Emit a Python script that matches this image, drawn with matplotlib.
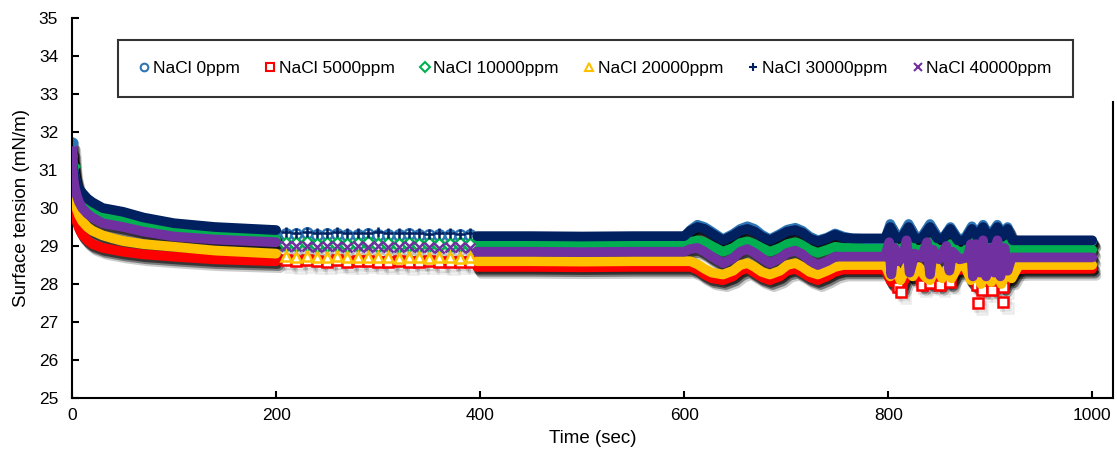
import matplotlib
matplotlib.use('Agg')
import matplotlib.pyplot as plt
import matplotlib.patheffects as pe
from matplotlib.lines import Line2D

plt.rcParams['font.family'] = ['Liberation Sans', 'DejaVu Sans']

labels = ['NaCl 0ppm', 'NaCl 5000ppm', 'NaCl 10000ppm',
          'NaCl 20000ppm', 'NaCl 30000ppm', 'NaCl 40000ppm']
colors = ['#2E75B6', '#FF0000', '#00B050', '#FFC000', '#002060', '#7030A0']
markers = ['o', 's', 'D', '^', '+', 'x']

# 0-200 s (dense recording)
t_early = [0, 1, 2, 3, 5, 7, 10, 15, 20, 30, 40, 50, 70, 100, 140, 200]
early_0 = [31.7, 31.2, 30.95, 30.8, 30.55, 30.42, 30.3, 30.15, 30.05, 29.9, 29.82, 29.76, 29.6, 29.47, 29.38, 29.3]
early_5k = [30.7, 30.2, 30.0, 29.85, 29.6, 29.45, 29.3, 29.15, 29.05, 28.95, 28.9, 28.85, 28.78, 28.72, 28.65, 28.6]
early_10k = [31.1, 30.8, 30.65, 30.55, 30.35, 30.25, 30.12, 30.0, 29.9, 29.78, 29.7, 29.64, 29.5, 29.38, 29.28, 29.18]
early_20k = [30.95, 30.5, 30.3, 30.15, 29.95, 29.8, 29.65, 29.5, 29.4, 29.28, 29.2, 29.13, 29.05, 28.98, 28.88, 28.8]
early_30k = [31.3, 31.05, 30.9, 30.8, 30.6, 30.5, 30.4, 30.25, 30.15, 30.0, 29.95, 29.9, 29.75, 29.6, 29.5, 29.42]
early_40k = [31.5, 30.9, 30.65, 30.5, 30.3, 30.15, 30.0, 29.85, 29.75, 29.6, 29.55, 29.5, 29.38, 29.25, 29.17, 29.1]

# 200-400 s (one reading every ~10 s)
t_mid = [210, 220, 230, 240, 250, 260, 270, 280, 290, 300, 310, 320, 330, 340, 350, 360, 370, 380, 390]
mid_0 = [29.32, 29.31, 29.33, 29.3, 29.31, 29.32, 29.3, 29.29, 29.31, 29.3, 29.29, 29.3, 29.31, 29.28, 29.3, 29.29, 29.3, 29.28, 29.29]
mid_5k = [28.62, 28.6, 28.63, 28.6, 28.59, 28.62, 28.58, 28.6, 28.61, 28.59, 28.58, 28.6, 28.57, 28.59, 28.6, 28.58, 28.57, 28.59, 28.58]
mid_10k = [29.06, 29.05, 29.07, 29.04, 29.05, 29.06, 29.03, 29.05, 29.08, 29.04, 29.05, 29.03, 29.06, 29.04, 29.05, 29.03, 29.04, 29.05, 29.03]
mid_20k = [28.73, 28.72, 28.74, 28.71, 28.72, 28.73, 28.7, 28.72, 28.71, 28.7, 28.72, 28.69, 28.71, 28.7, 28.69, 28.71, 28.7, 28.69, 28.7]
mid_30k = [29.37, 29.35, 29.38, 29.34, 29.35, 29.36, 29.33, 29.35, 29.34, 29.36, 29.33, 29.34, 29.35, 29.33, 29.32, 29.34, 29.33, 29.32, 29.33]
mid_40k = [29.0, 28.99, 29.01, 28.98, 29.0, 28.99, 28.97, 29.0, 28.98, 28.99, 28.97, 28.98, 28.99, 28.97, 28.98, 28.96, 28.97, 28.98, 28.96]

# 397-797 s (dense, with the wave from 600 s)
t_late = [397, 450, 500, 550, 600, 606, 613, 620, 627, 638, 648, 655, 662, 669, 676, 684,
          694, 701, 709, 716, 723, 731, 740, 748, 756, 765, 780, 797]
late_0 = [29.22, 29.22, 29.21, 29.22, 29.22, 29.42, 29.56, 29.5, 29.38, 29.18, 29.32, 29.45, 29.52, 29.45,
          29.3, 29.18, 29.32, 29.43, 29.48, 29.4, 29.25, 29.15, 29.22, 29.33, 29.25, 29.2, 29.18, 29.18]
late_5k = [28.45, 28.45, 28.44, 28.45, 28.45, 28.45, 28.38, 28.25, 28.15, 28.1, 28.2, 28.35, 28.42, 28.3,
           28.18, 28.1, 28.2, 28.35, 28.4, 28.3, 28.18, 28.1, 28.2, 28.32, 28.38, 28.38, 28.38, 28.38]
late_10k = [29.05, 29.05, 29.04, 29.05, 29.05, 29.1, 29.15, 29.1, 29.0, 28.85, 28.95, 29.08, 29.12, 29.05,
            28.95, 28.85, 28.95, 29.05, 29.1, 29.02, 28.9, 28.82, 28.9, 28.98, 28.95, 28.95, 28.93, 28.93]
late_20k = [28.6, 28.6, 28.59, 28.6, 28.6, 28.6, 28.52, 28.4, 28.3, 28.25, 28.35, 28.5, 28.55, 28.45,
            28.32, 28.25, 28.35, 28.5, 28.55, 28.45, 28.32, 28.25, 28.35, 28.45, 28.5, 28.5, 28.5, 28.5]
late_30k = [29.26, 29.26, 29.25, 29.26, 29.26, 29.4, 29.5, 29.45, 29.33, 29.15, 29.28, 29.4, 29.45, 29.38,
            29.25, 29.15, 29.28, 29.38, 29.42, 29.35, 29.2, 29.12, 29.2, 29.3, 29.22, 29.2, 29.2, 29.2]
late_40k = [28.85, 28.85, 28.84, 28.85, 28.85, 28.92, 28.95, 28.85, 28.72, 28.55, 28.68, 28.85, 28.92, 28.82,
            28.68, 28.55, 28.68, 28.82, 28.88, 28.78, 28.62, 28.5, 28.6, 28.72, 28.72, 28.72, 28.72, 28.72]

# 800-1000 s (spiky part and tail)
t_spk_top = [802, 808, 814, 820, 826, 833, 841, 848, 854, 861, 868, 875, 882, 887, 893, 899, 907, 912, 917, 922,
             935, 960, 1000]
spk_0 = [29.58, 29.25, 29.3, 29.58, 29.25, 29.25, 29.58, 29.25, 29.22, 29.5, 29.2, 29.2, 29.52, 29.3, 29.56, 29.25,
         29.56, 29.3, 29.5, 29.15, 29.12, 29.12, 29.12]
spk_10k = [29.15, 28.9, 28.95, 29.1, 28.9, 28.9, 29.1, 28.9, 28.9, 29.05, 28.85, 28.85, 29.1, 28.9, 29.1, 28.9,
           29.1, 28.9, 29.05, 28.9, 28.9, 28.9, 28.9]
spk_30k = [29.5, 29.2, 29.25, 29.5, 29.2, 29.2, 29.5, 29.2, 29.2, 29.45, 29.15, 29.15, 29.45, 29.25, 29.5, 29.2,
           29.5, 29.25, 29.45, 29.15, 29.15, 29.15, 29.15]
t_spk_5k = [803, 808, 814, 819, 826, 833, 838, 842, 846, 851, 856, 861, 866, 872, 880, 885, 889, 893, 898, 903,
            908, 913, 918, 923, 935, 960, 1000]
spk_5k = [28.05, 28.15, 27.95, 28.3, 28.35, 28.0, 28.25, 28.05, 28.25, 28.0, 28.25, 28.05, 28.35, 28.38, 28.35,
          28.0, 28.2, 27.9, 28.2, 27.9, 28.2, 27.95, 28.2, 28.38, 28.4, 28.4, 28.4]
t_spk_20k = [802, 807, 812, 818, 824, 830, 836, 841, 847, 853, 858, 862, 868, 875, 881, 886, 891, 896, 901, 906,
             911, 916, 921, 928, 960, 1000]
spk_20k = [28.2, 28.4, 28.1, 28.45, 28.2, 28.45, 28.2, 28.1, 28.45, 28.15, 28.4, 28.15, 28.45, 28.5, 28.1, 28.4,
           28.0, 28.35, 28.05, 28.4, 28.0, 28.35, 28.15, 28.5, 28.5, 28.5]
t_spk_40k = [801, 803, 806, 810, 815, 818, 821, 826, 833, 838, 841, 844, 850, 857, 860, 863, 870, 878,
             881, 883, 886, 890, 893, 896, 901, 904, 907, 910, 914, 917, 921, 935, 960, 1000]
spk_40k = [29.1, 28.25, 28.95, 28.6, 28.75, 29.15, 28.3, 28.8, 28.7, 29.1, 28.25, 28.9, 28.65, 29.0, 28.35,
           28.85, 28.65, 28.7, 29.05, 28.2, 29.05, 28.3, 29.15, 28.2, 28.95, 28.3, 29.15, 28.2, 28.95, 28.35,
           28.7, 28.7, 28.7, 28.7]

# stray low readings of the 5000 ppm run
t_low_5k = [810, 813, 833, 841, 851, 861, 887, 888, 892, 902, 913, 913]
low_5k = [27.93, 27.8, 27.97, 28.02, 27.97, 28.06, 27.97, 27.5, 27.84, 27.84, 27.93, 27.53]

dense_t = [
    (t_early, t_late + t_spk_top),
    (t_early, t_late + t_spk_5k),
    (t_early, t_late + t_spk_top),
    (t_early, t_late + t_spk_20k),
    (t_early, t_late + t_spk_top),
    (t_early, t_late + t_spk_40k),
]
dense_v = [
    (early_0, late_0 + spk_0),
    (early_5k, late_5k + spk_5k),
    (early_10k, late_10k + spk_10k),
    (early_20k, late_20k + spk_20k),
    (early_30k, late_30k + spk_30k),
    (early_40k, late_40k + spk_40k),
]
mids = [mid_0, mid_5k, mid_10k, mid_20k, mid_30k, mid_40k]

fig = plt.figure(figsize=(11.17, 4.51), dpi=100)
ax = fig.add_axes([0.0645, 0.1175, 0.9316, 0.8425])

shadow = [pe.SimpleLineShadow(offset=(1, -2), shadow_color='k', alpha=0.55),
          pe.SimpleLineShadow(offset=(2, -3.5), shadow_color='k', alpha=0.4),
          pe.SimpleLineShadow(offset=(3, -5), shadow_color='k', alpha=0.2)]
mshadow = [pe.SimpleLineShadow(offset=(1.5, -2.5), shadow_color='k', alpha=0.12),
           pe.SimpleLineShadow(offset=(3, -4.5), shadow_color='k', alpha=0.08)]

# shadows first so they sit under every series
for i in range(6):
    for t, v in zip(dense_t[i], dense_v[i]):
        ax.plot(t, v, lw=7, color='k', solid_capstyle='round', solid_joinstyle='round',
                path_effects=shadow, zorder=1)
    ax.plot(t_mid, mids[i], ls='none', marker=markers[i], ms=7.5, mew=1.8, color='k',
            mfc='none', path_effects=mshadow, zorder=1)
ax.plot(t_low_5k, low_5k, ls='none', marker='s', ms=7, mew=1.8, color='k', mfc='none',
        path_effects=mshadow, zorder=1)

for i in range(6):
    for t, v in zip(dense_t[i], dense_v[i]):
        ax.plot(t, v, lw=7, color=colors[i], solid_capstyle='round', solid_joinstyle='round',
                zorder=2 + i)
    ax.plot(t_mid, mids[i], ls='none', marker=markers[i], ms=7.5, mew=1.8, color=colors[i],
            mfc='white' if markers[i] in 'osD^' else colors[i], zorder=2 + i)
    ax.plot(t_early[:1], dense_v[i][0][:1], ls='none', marker=markers[i], ms=7, mew=1.8,
            color=colors[i], mfc='none', zorder=2 + i)
ax.plot(t_low_5k, low_5k, ls='none', marker='s', ms=7, mew=1.8, color=colors[1], mfc='white', zorder=3)

ax.set_xlim(0, 1020)
ax.set_ylim(25, 35)
ax.set_xticks(range(0, 1001, 200))
ax.set_yticks(range(25, 36))
ax.tick_params(direction='in', length=5, width=1.5, labelsize=12.5)
ax.tick_params(axis='y', pad=10)
ax.tick_params(axis='x', pad=7)
for s in ['left', 'bottom', 'right']:
    ax.spines[s].set_linewidth(1.5)
ax.spines['top'].set_visible(False)
ax.spines['right'].set_bounds(25, 32.8)
ax.set_xlabel('Time (sec)', fontsize=13.5, labelpad=5)
ax.set_ylabel('Surface tension (mN/m)', fontsize=13.5, labelpad=6)

handles = [Line2D([], [], ls='none', marker=m, color=c, ms=5.5, mew=1.5,
                  mfc='none' if m in 'osD^' else c) for m, c in zip(markers, colors)]
leg = ax.legend(handles, labels, ncol=6, loc='center', bbox_to_anchor=(0.0442, 0.792, 0.9174, 0.150),
                mode='expand', fontsize=12.5, frameon=True, fancybox=False, edgecolor='k',
                handlelength=0.6, handletextpad=0.2, borderpad=1.2, borderaxespad=0)
leg.get_frame().set_linewidth(1.5)

fig.savefig('out.png', dpi=100)
